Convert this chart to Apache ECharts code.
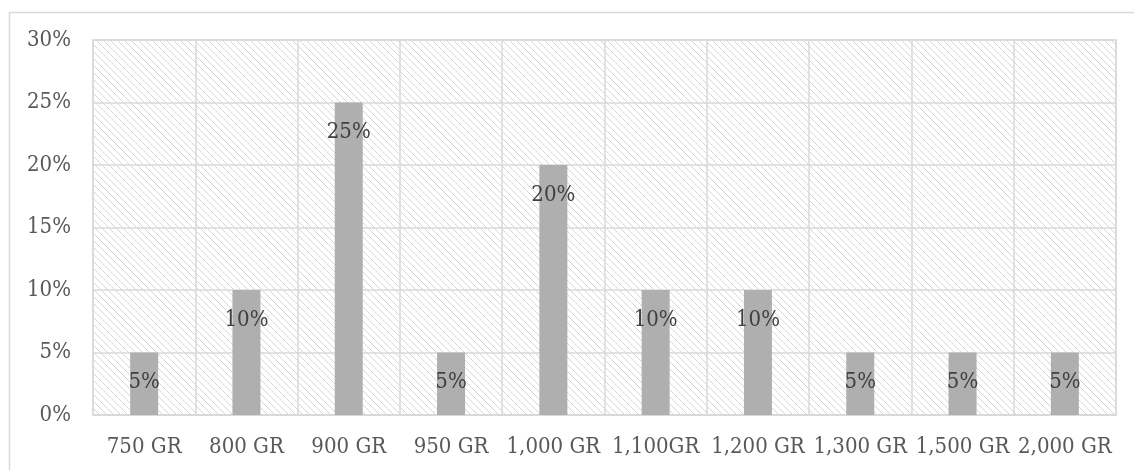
<!DOCTYPE html>
<html>
<head>
<meta charset="utf-8">
<script src="https://cdn.jsdelivr.net/npm/echarts@6/dist/echarts.min.js"></script>
<style>
  html, body { margin: 0; padding: 0; background: #ffffff; }
  #chart { width: 1134px; height: 470px; }
</style>
</head>
<body>
<div id="chart"></div>
<script>
// Weight classes and their share of the total (percent)
const categories = ['750 GR', '800 GR', '900 GR', '950 GR', '1,000 GR', '1,100GR', '1,200 GR', '1,300 GR', '1,500 GR', '2,000 GR'];
const shares = [5, 10, 25, 5, 20, 10, 10, 5, 5, 5];
const yTicks = [0, 5, 10, 15, 20, 25, 30];

// Light diagonal hatch used as the plot-area fill
function makeHatch() {
  const size = 7;
  const c = document.createElement('canvas');
  c.width = size; c.height = size;
  const ctx = c.getContext('2d');
  ctx.fillStyle = '#ffffff';
  ctx.fillRect(0, 0, size, size);
  ctx.strokeStyle = '#d6d6d6';
  ctx.lineWidth = 1;
  ctx.beginPath();
  ctx.moveTo(-1, -1); ctx.lineTo(size + 1, size + 1);
  ctx.moveTo(-1, size - 1); ctx.lineTo(1, size + 1);
  ctx.moveTo(size - 1, -1); ctx.lineTo(size + 1, 1);
  ctx.stroke();
  return c;
}

const fontFamily = '"DejaVu Serif Condensed", "DejaVu Serif", serif';
const chart = echarts.init(document.getElementById('chart'), null, { renderer: 'canvas' });

chart.setOption({
  animation: false,
  backgroundColor: '#ffffff',
  graphic: [{
    type: 'rect',
    left: 7, top: 10,
    shape: { width: 1140, height: 480 },
    style: { fill: 'none', stroke: '#d9d9d9', lineWidth: 1.5 },
    silent: true, z: -1
  }],
  grid: {
    left: 93, top: 40, right: 18, bottom: 55,
    show: true,
    backgroundColor: { image: makeHatch(), repeat: 'repeat' },
    borderColor: '#d9d9d9',
    borderWidth: 1.5
  },
  xAxis: {
    type: 'category',
    data: categories,
    axisLine: { show: true, lineStyle: { color: '#d9d9d9', width: 1.5 } },
    axisTick: { show: false },
    splitLine: { show: true, lineStyle: { color: '#d9d9d9', width: 1.5 } },
    axisLabel: { color: '#595959', fontFamily, fontSize: 22, margin: 21, interval: 0 }
  },
  yAxis: {
    type: 'value',
    min: yTicks[0], max: yTicks[yTicks.length - 1], interval: 5,
    axisLine: { show: false },
    axisTick: { show: false },
    splitLine: { lineStyle: { color: '#d9d9d9', width: 1.5 } },
    axisLabel: { color: '#595959', fontFamily, fontSize: 22, margin: 22, formatter: v => v + '%' }
  },
  series: [{
    type: 'bar',
    data: shares,
    barWidth: 28,
    itemStyle: { color: '#afafaf' },
    label: {
      show: true,
      position: 'insideTop',
      distance: 19,
      color: '#404040',
      fontFamily,
      fontSize: 22,
      formatter: p => p.value + '%'
    }
  }]
});
</script>
</body>
</html>
